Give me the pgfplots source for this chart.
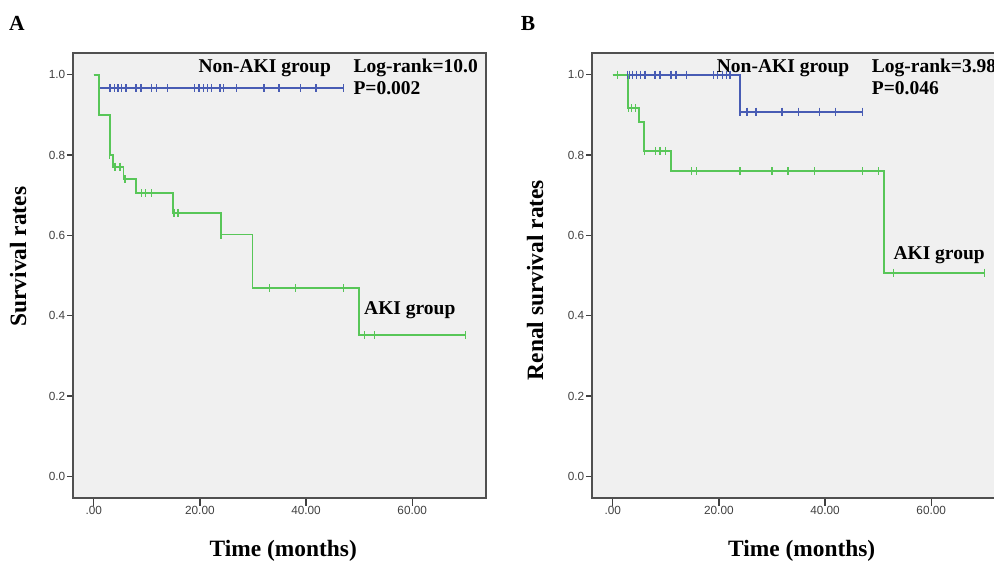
\documentclass[border=0pt]{standalone}
\usepackage{pgfplots}
\pgfplotsset{compat=1.18}
\usepackage{fontspec}
\setmainfont{Liberation Serif}
\newfontfamily\arial{Liberation Sans}
\definecolor{bgc}{RGB}{240,240,240}
\definecolor{kmgreen}{RGB}{88,198,88}
\definecolor{kmblue}{RGB}{72,92,180}
\definecolor{framec}{RGB}{80,80,80}

\pgfplotsset{
  kmaxis/.style={
    scale only axis, width=413pt, height=445pt,
    xmin=-3.9, xmax=73.9, ymin=-0.054, ymax=1.054,
    xtick={0,20,40,60}, xticklabels={.00,20.00,40.00,60.00},
    ytick={0,0.2,0.4,0.6,0.8,1.0}, yticklabels={0.0,0.2,0.4,0.6,0.8,1.0},
    axis background/.style={fill=bgc},
    axis line style={draw=framec, line width=1.6pt},
    tick align=outside, xtick pos=bottom, ytick pos=left,
    tick style={draw=black!75, line width=1.4pt},
    xtick style={/pgfplots/major tick length=8pt},
    ytick style={/pgfplots/major tick length=6pt},
    tick label style={font=\arial\fontsize{11.8}{12}\selectfont, text=black!75},
    anchor=south west,
  },
  kmline/.style={line width=1.8pt, const plot, mark=none},
  kmcens/.style={only marks, mark=|, mark size=4pt, mark options={line width=1.3pt}},
}

\begin{document}
\begin{tikzpicture}
\path[use as bounding box] (0pt,0pt) rectangle (994pt,560pt);
\clip (0pt,0pt) rectangle (994pt,560pt);

% ---------------- Panel A ----------------
\begin{axis}[kmaxis, at={(73pt,62pt)}]
% Non-AKI group
\addplot[kmline, color=kmblue] coordinates {(0,1) (1.05,0.966) (47.1,0.966)};
\addplot[kmcens, color=kmblue] coordinates {
(2.94,0.966) (3.19,0.966) (3.89,0.966) (4.58,0.966) (5.27,0.966) (6.08,0.966)
(7.97,0.966) (8.9,0.966) (10.9,0.966) (11.86,0.966) (13.93,0.966) (18.95,0.966)
(19.83,0.966) (20.65,0.966) (21.46,0.966) (22.2,0.966) (23.8,0.966) (24.5,0.966)
(26.9,0.966) (32.1,0.966) (34.9,0.966) (38.9,0.966) (41.9,0.966) (47.1,0.966)};
% AKI group
\addplot[kmline, color=kmgreen] coordinates {
(0,1) (1.05,0.899) (3.0,0.800) (3.6,0.771) (5.6,0.740) (7.9,0.705)
(15.0,0.656) (24.0,0.602) (29.9,0.468) (50.0,0.351) (70.0,0.351)};
\addplot[kmcens, color=kmgreen] coordinates {
(2.95,0.800) (4.0,0.771) (4.95,0.771) (5.9,0.740) (9.0,0.705) (9.8,0.705) (10.9,0.705)
(15.1,0.656) (15.9,0.656) (24.0,0.602) (33.1,0.468) (38.0,0.468) (47.0,0.468)
(51.0,0.351) (52.9,0.351) (70.0,0.351)};
\end{axis}

% ---------------- Panel B ----------------
\begin{axis}[kmaxis, at={(592pt,62pt)}]
% Non-AKI group
\addplot[kmline, color=kmblue] coordinates {(0,1) (24.0,0.908) (47.0,0.908)};
\addplot[kmcens, color=kmblue] coordinates {
(2.82,1) (3.14,1) (3.77,1) (4.52,1) (5.28,1) (6.09,1) (7.98,1) (8.92,1)
(11.0,1) (11.94,1) (13.96,1) (18.99,1) (19.8,1) (20.7,1) (21.5,1) (22.1,1)
(24.0,0.908) (25.3,0.908) (27.0,0.908) (31.9,0.908) (35.0,0.908) (39.0,0.908)
(42.0,0.908) (47.0,0.908)};
% AKI group
\addplot[kmline, color=kmgreen] coordinates {
(0,1) (2.95,0.917) (5.0,0.882) (5.95,0.810) (10.94,0.760) (51.06,0.507) (70.1,0.507)};
\addplot[kmcens, color=kmgreen] coordinates {
(0.87,1) (3.0,0.917) (3.6,0.917) (4.3,0.917)
(6.0,0.810) (8.0,0.810) (8.9,0.810) (10.0,0.810)
(14.9,0.760) (15.8,0.760) (24.0,0.760) (30.0,0.760) (33.0,0.760) (38.0,0.760)
(47.0,0.760) (50.1,0.760) (52.9,0.507) (70.1,0.507)};
\end{axis}

% ---------------- Text ----------------
\begin{scope}[every node/.style={inner sep=0pt}]
\node[anchor=base west, font=\fontsize{21.5}{22}\selectfont\bfseries] at (9pt,529.3pt) {A};
\node[anchor=base west, font=\fontsize{21.5}{22}\selectfont\bfseries] at (520.7pt,529.3pt) {B};

\node[anchor=base, font=\fontsize{23.4}{24}\selectfont\bfseries] at (283.3pt,3.3pt) {Time (months)};
\node[anchor=base, font=\fontsize{23.4}{24}\selectfont\bfseries] at (801.7pt,3.3pt) {Time (months)};
\node[anchor=base, rotate=90, font=\fontsize{23.4}{24}\selectfont\bfseries] at (26pt,303.3pt) {Survival rates};
\node[anchor=base, rotate=90, font=\fontsize{23.4}{24}\selectfont\bfseries] at (543pt,280pt) {Renal survival rates};

\node[anchor=base west, font=\fontsize{19.5}{20}\selectfont\bfseries] at (198.3pt,487.7pt) {Non-AKI group};
\node[anchor=base west, font=\fontsize{19.5}{20}\selectfont\bfseries] at (353.3pt,487.7pt) {Log-rank=10.0};
\node[anchor=base west, font=\fontsize{19.5}{20}\selectfont\bfseries] at (353.3pt,465.7pt) {P=0.002};
\node[anchor=base west, font=\fontsize{19.5}{20}\selectfont\bfseries] at (364pt,245pt) {AKI group};

\node[anchor=base west, font=\fontsize{19.5}{20}\selectfont\bfseries] at (716.7pt,487.7pt) {Non-AKI group};
\node[anchor=base west, font=\fontsize{19.5}{20}\selectfont\bfseries] at (871.7pt,487.7pt) {Log-rank=3.98};
\node[anchor=base west, font=\fontsize{19.5}{20}\selectfont\bfseries] at (871.7pt,465.7pt) {P=0.046};
\node[anchor=base west, font=\fontsize{19.5}{20}\selectfont\bfseries] at (893.3pt,300pt) {AKI group};
\end{scope}
\end{tikzpicture}
\end{document}
